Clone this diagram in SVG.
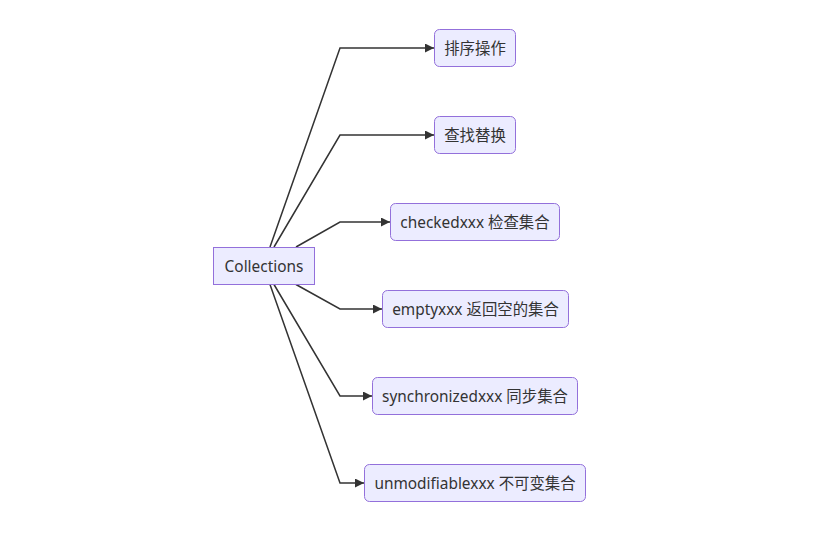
<svg xmlns="http://www.w3.org/2000/svg" width="832" height="544" viewBox="0 0 832 544">
<style>
.node rect{fill:#ECECFF;stroke:#9370DB;stroke-width:1}
.node text{fill:#333;font-family:"Noto Sans","Noto Sans CJK SC",sans-serif;font-size:15.4px;text-anchor:middle;dominant-baseline:central}
.edge{fill:none;stroke:#333;stroke-width:1.5;marker-end:url(#arrow)}
</style>
<defs>
<marker id="arrow" viewBox="0 0 10 10" refX="10" refY="5" markerWidth="9" markerHeight="9" markerUnits="userSpaceOnUse" orient="auto">
<path d="M0,0 L10,5 L0,10 z" fill="#333"/>
</marker>
</defs>
<rect width="832" height="544" fill="#fff"/>
<g id="connectors">
<path class="edge" d="M270,247 L340,48 L434,48"/>
<path class="edge" d="M274,247 L340,135 L434,135"/>
<path class="edge" d="M296,247 L340,222 L390,222"/>
<path class="edge" d="M296,284.5 L340,309 L382,309"/>
<path class="edge" d="M274,284.5 L340,396 L372,396"/>
<path class="edge" d="M270,284.5 L340,483 L364,483"/>
</g>
<g id="collections" class="node"><rect x="213.5" y="247.5" width="101" height="37"/><text x="264" y="266">Collections</text></g>
<g id="sort" class="node"><rect x="434.5" y="29.5" width="81" height="37" rx="5"/><text x="475" y="48">排序操作</text></g>
<g id="search" class="node"><rect x="434.5" y="116.5" width="81" height="37" rx="5"/><text x="475" y="135">查找替换</text></g>
<g id="checked" class="node"><rect x="390.5" y="203.5" width="169" height="37" rx="5"/><text x="475" y="222">checkedxxx 检查集合</text></g>
<g id="empty" class="node"><rect x="382.5" y="290.5" width="186" height="37" rx="5"/><text x="475.5" y="309">emptyxxx 返回空的集合</text></g>
<g id="synchronized" class="node"><rect x="372.5" y="377.5" width="205" height="37" rx="5"/><text x="475" y="396">synchronizedxxx 同步集合</text></g>
<g id="unmodifiable" class="node"><rect x="364.5" y="464.5" width="221" height="37" rx="5"/><text x="475" y="483">unmodifiablexxx 不可变集合</text></g>
</svg>
